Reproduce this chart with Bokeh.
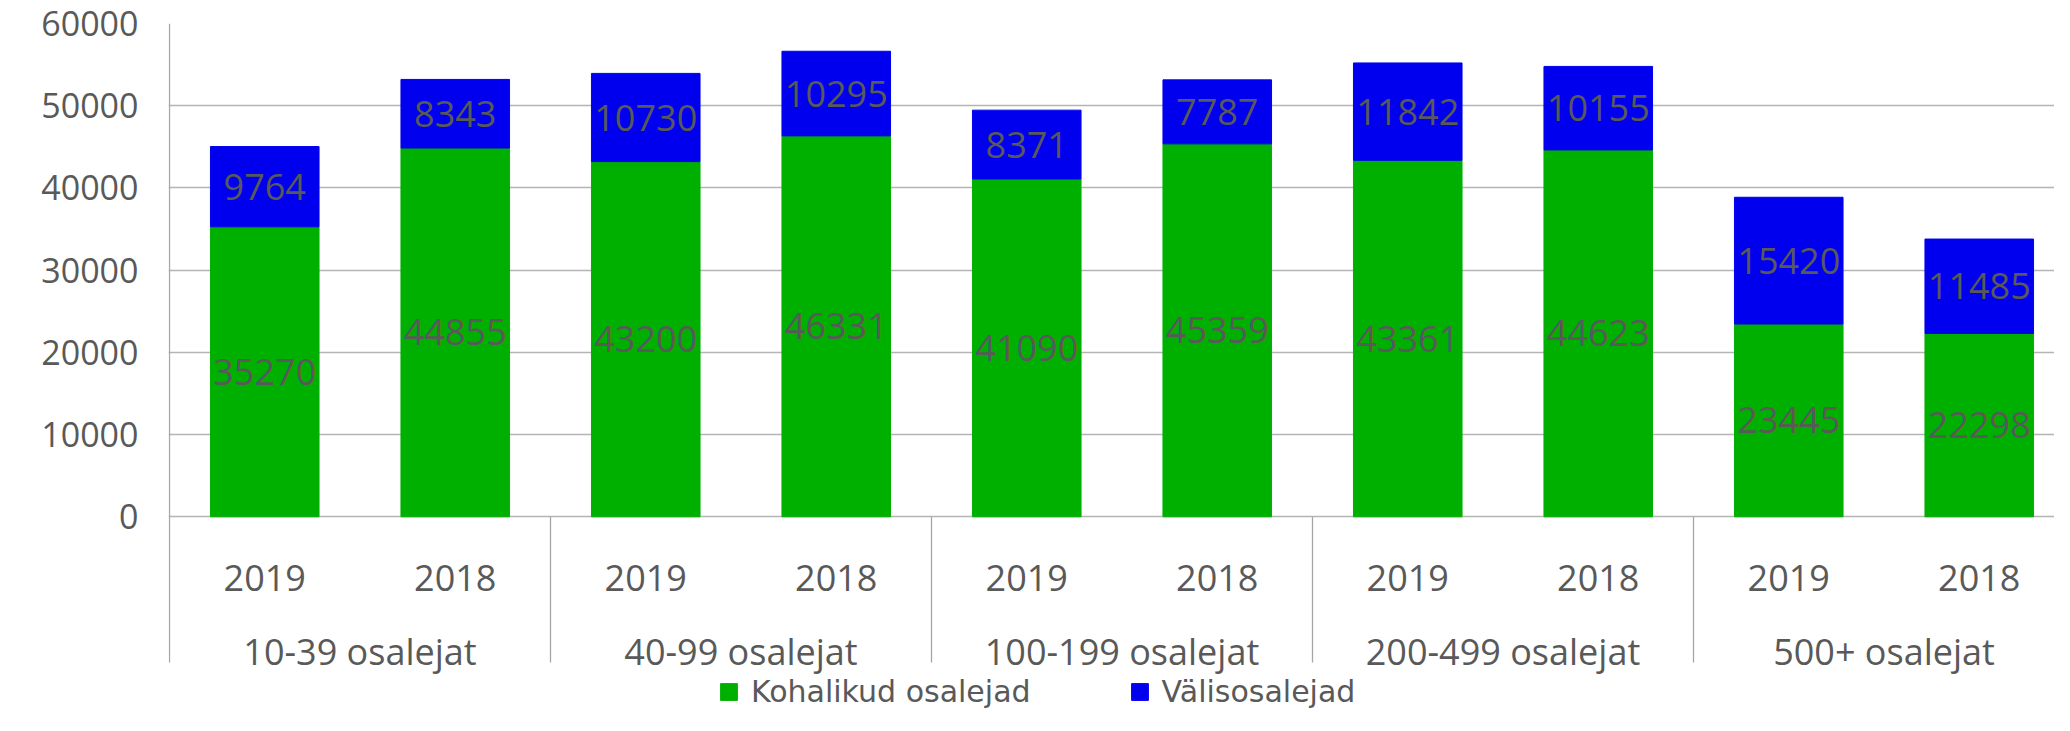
from bokeh.plotting import figure
from bokeh.models import Range1d, FixedTicker, ColumnDataSource, Legend, LegendItem
from bokeh.core.properties import value
from bokeh.embed import file_html
from bokeh.resources import INLINE

# ---- data ----
groups = ["10-39 osalejat", "40-99 osalejat", "100-199 osalejat", "200-499 osalejat", "500+ osalejat"]
years = ["2019", "2018"]
local = [35270, 44855, 43200, 46331, 41090, 45359, 43361, 44623, 23445, 22298]
foreign = [9764, 8343, 10730, 10295, 8371, 7787, 11842, 10155, 15420, 11485]
series_names = ["Kohalikud osalejad", "Välisosalejad"]
y_ticks = [0, 10000, 20000, 30000, 40000, 50000, 60000]

# ---- style ----
GREEN = "#00b000"
BLUE = "#0000ee"
TEXT = "#595959"
LINE = "#a6a6a6"
GRID = "#b4b4b4"
FONT = "Open Sans"
FS = "36px"

Y_MAX = 60000
Y_MIN = -24168      # frame extends down to the figure bottom
AXIS_BOTTOM = -17721  # where the category axis lines end

n = len(local)
xs = [i + 0.5 for i in range(n)]
year_labels = [years[i % len(years)] for i in range(n)]
total = [a + b for a, b in zip(local, foreign)]
src = ColumnDataSource(dict(
    x=xs, local=local, total=total,
    lmid=[a / 2 for a in local],
    fmid=[a + b / 2 for a, b in zip(local, foreign)],
    ltxt=[str(v) for v in local],
    ftxt=[str(v) for v in foreign],
    year=year_labels,
))

p = figure(width=2054, height=715, output_backend="svg", toolbar_location=None,
           x_range=Range1d(-0.00525, 9.895), y_range=Range1d(Y_MIN, Y_MAX),
           x_axis_location=None, y_axis_location="left",
           min_border_left=168, min_border_right=0, min_border_top=23, min_border_bottom=0)
p.outline_line_color = None
p.background_fill_color = "white"
p.xgrid.visible = False
p.ygrid.ticker = FixedTicker(ticks=y_ticks)
p.ygrid.grid_line_color = GRID
p.ygrid.grid_line_width = 1.3

ax = p.yaxis[0]
ax.ticker = FixedTicker(ticks=y_ticks)
ax.major_tick_line_color = None
ax.major_tick_out = 0
ax.major_tick_in = 0
ax.minor_tick_line_color = None
ax.minor_tick_out = 0
ax.axis_line_color = None
ax.major_label_standoff = 30
ax.major_label_text_font = FONT
ax.major_label_text_font_size = "34px"
ax.major_label_text_color = TEXT

bw = 0.57
r1 = p.vbar(x="x", bottom=0, top="local", width=bw, source=src,
            fill_color=GREEN, line_color=GREEN, line_width=1)
r2 = p.vbar(x="x", bottom="local", top="total", width=bw, source=src,
            fill_color=BLUE, line_color=BLUE, line_width=1)

p.text(x="x", y="lmid", text="ltxt", source=src, text_align="center", text_baseline="middle",
       text_font=value(FONT), text_font_size=FS, text_color=TEXT)
p.text(x="x", y="fmid", text="ftxt", source=src, text_align="center", text_baseline="middle",
       text_font=value(FONT), text_font_size=FS, text_color=TEXT)

# value-axis line and category separators
sep_x = [2 * k for k in range(0, len(groups) + 1)]
p.segment(x0=[0], y0=[AXIS_BOTTOM], x1=[0], y1=[Y_MAX], line_color=LINE, line_width=1.3)
p.segment(x0=sep_x[1:], y0=[0] * (len(sep_x) - 1), x1=sep_x[1:], y1=[AXIS_BOTTOM] * (len(sep_x) - 1),
          line_color=LINE, line_width=1.3)

# two-level category labels
p.text(x="x", y=-7450, text="year", source=src, text_align="center", text_baseline="alphabetic",
       text_font=value(FONT), text_font_size=FS, text_color=TEXT)
p.text(x=[2 * k + 1 for k in range(len(groups))], y=[-16380] * len(groups), text=groups,
       text_align="center", text_baseline="alphabetic",
       text_font=value(FONT), text_font_size=FS, text_color=TEXT)

legend = Legend(items=[LegendItem(label=series_names[0], renderers=[r1]),
                       LegendItem(label=series_names[1], renderers=[r2])],
                orientation="horizontal", location=(550, 6), padding=0, margin=0,
                spacing=98, glyph_width=21, glyph_height=21, label_standoff=12,
                label_text_font="DejaVu Sans", label_text_font_size="30px", label_text_color=TEXT,
                border_line_color=None, background_fill_alpha=0)
p.add_layout(legend, "center")

open("out.html", "w").write(file_html(p, INLINE))
